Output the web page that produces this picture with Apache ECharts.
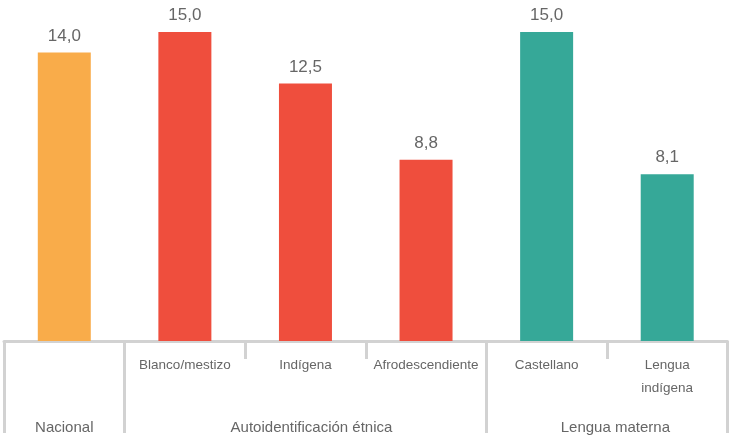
<!DOCTYPE html>
<html>
<head>
<meta charset="utf-8">
<script src="https://cdn.jsdelivr.net/npm/echarts@6/dist/echarts.min.js"></script>
<style>html,body{margin:0;padding:0;background:#fff}#c{width:731px;height:442px}</style>
</head>
<body>
<div id="c"></div>
<script>
const categories = ['Nacional', 'Blanco/mestizo', 'Indígena', 'Afrodescendiente', 'Castellano', 'Lengua\nindígena'];
const values = [14.0, 15.0, 12.5, 8.8, 15.0, 8.1];
const categoryGroup = [0, 1, 1, 1, 2, 2];
const groupNames = ['Nacional', 'Autoidentificación étnica', 'Lengua materna'];
const groupBoundaries = [0, 1, 4, 6];
const groupLabelPos = [0.5, 2.55, 5.07];

const palette = ['#F9AC4A', '#EF4E3D', '#36A898'];
const FONT = '"Liberation Sans Narrow", "Liberation Sans", Arial, sans-serif';
const GRAY = '#666666';
const LINE = '#d2d2d2';

const chart = echarts.init(document.getElementById('c'));
chart.setOption({
  animation: false,
  grid: { left: 4, right: 3.5, top: 11.4, bottom: 101, containLabel: false },
  xAxis: [
    {
      type: 'category',
      data: categories.map((c, i) => categoryGroup[i] === 0 ? '' : c),
      position: 'bottom',
      axisLine: { show: true, lineStyle: { color: LINE, width: 3 } },
      axisTick: { show: true, length: 18, lineStyle: { color: LINE, width: 3 } },
      axisLabel: { color: GRAY, fontFamily: FONT, fontSize: 13.5, lineHeight: 23, margin: 13, interval: 0 }
    },
    {
      type: 'value',
      min: 0, max: 6,
      position: 'bottom',
      splitLine: { show: false },
      axisLine: { show: false },
      axisTick: { show: true, length: 92, customValues: groupBoundaries, lineStyle: { color: LINE, width: 3 } },
      axisLabel: {
        show: true, customValues: groupLabelPos,
        formatter: (v) => groupNames[groupLabelPos.indexOf(v)] || '',
        color: GRAY, fontFamily: FONT, fontSize: 15, margin: 79
      }
    }
  ],
  yAxis: { type: 'value', min: 0, max: 16, show: false, splitLine: { show: false } },
  series: [{
    type: 'bar',
    xAxisIndex: 0,
    barWidth: 53,
    data: values.map((v, i) => ({ value: v, itemStyle: { color: palette[categoryGroup[i]] } })),
    label: {
      show: true, position: 'top', distance: 8,
      formatter: (p) => p.value.toFixed(1).replace('.', ','),
      color: GRAY, fontFamily: FONT, fontSize: 17
    }
  }]
});
</script>
</body>
</html>
